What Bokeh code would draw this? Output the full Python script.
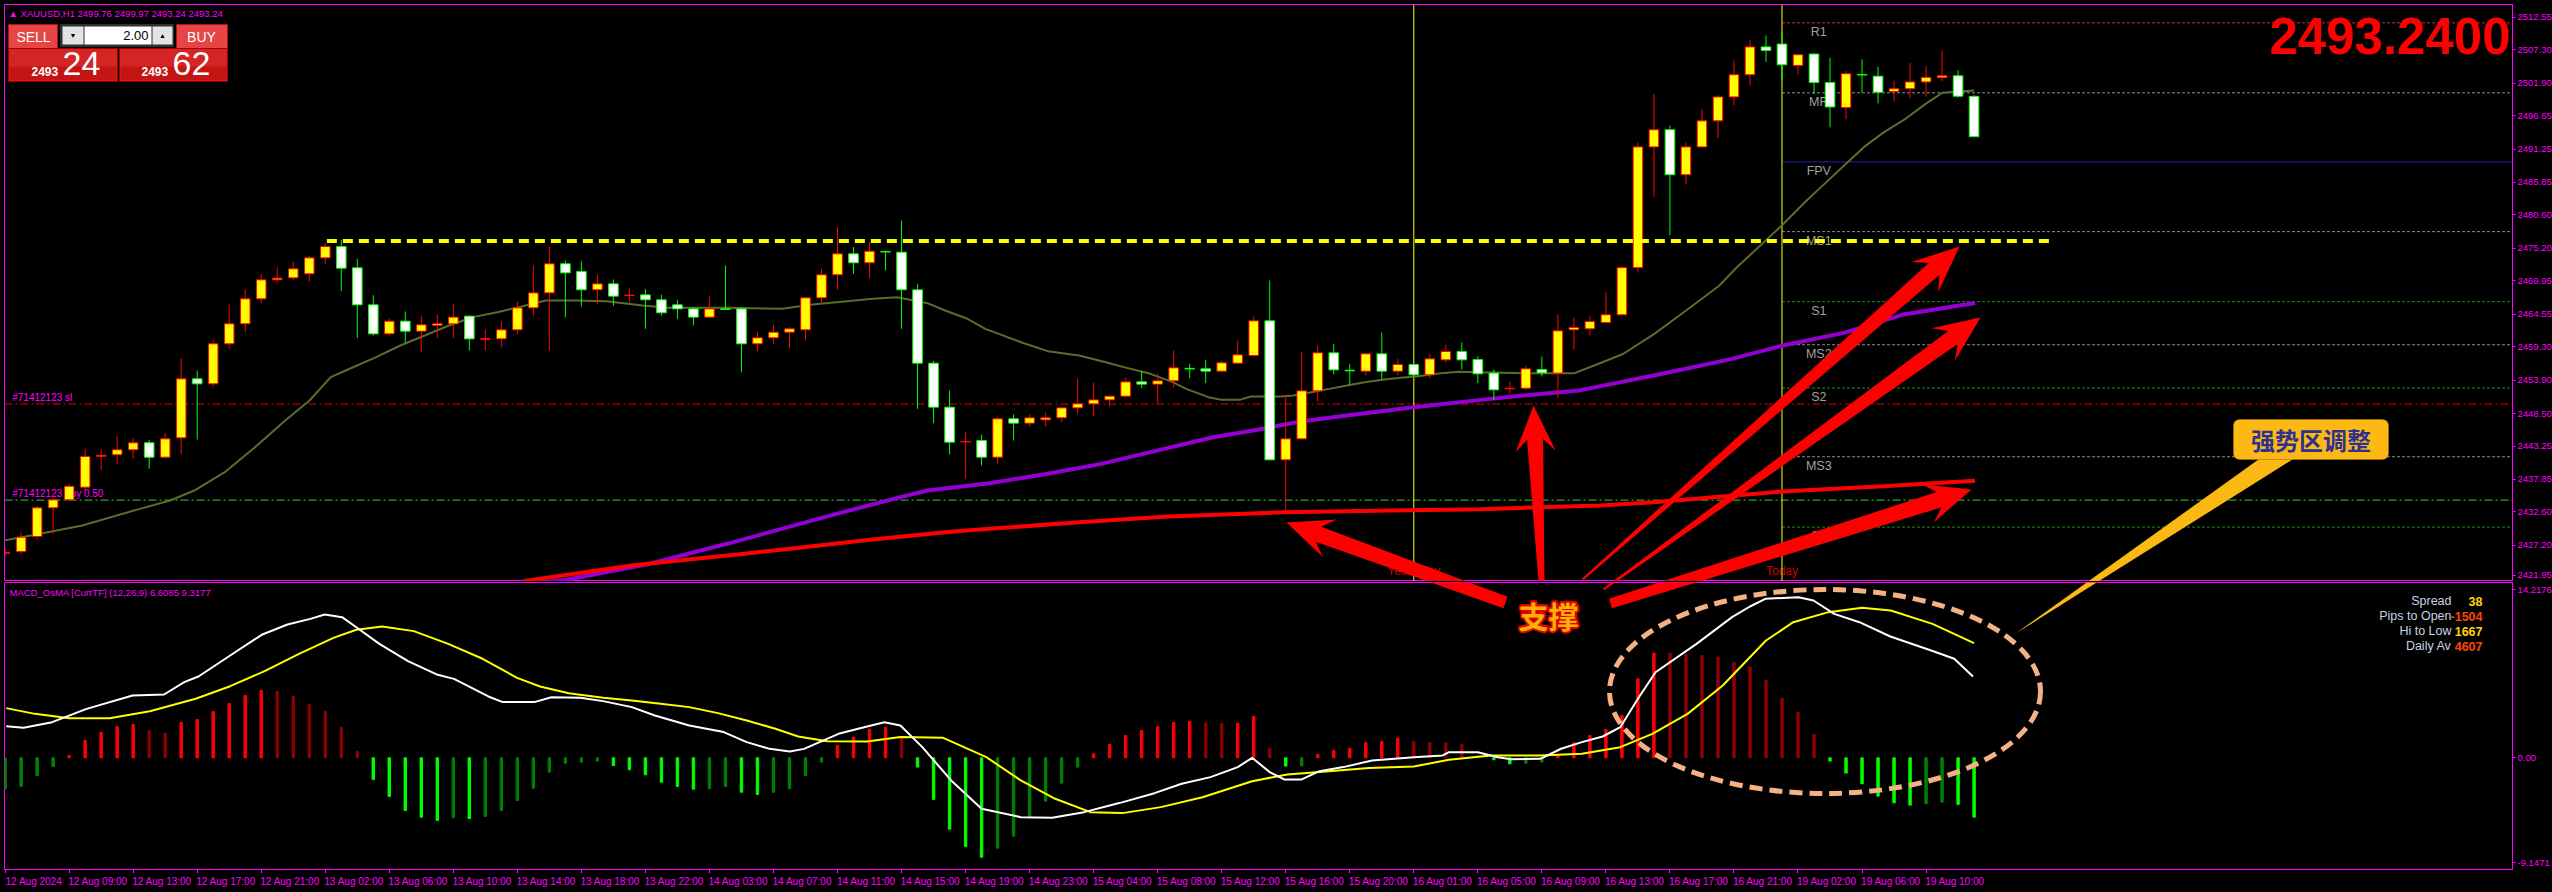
import math
from bokeh.plotting import figure
from bokeh.layouts import column
from bokeh.models import (Range1d, LinearAxis, FixedTicker, PrintfTickFormatter,
                          Label, Span, BoxAnnotation)
from bokeh.core.properties import value
from bokeh.embed import file_html
from bokeh.resources import INLINE

# ============================ DATA ============================
symbol = "XAUUSD,H1"
header_ohlc = "2499.76 2499.97 2493.24 2493.24"
last_price = 2493.24

time_labels = ["12 Aug 2024", "12 Aug 09:00", "12 Aug 13:00", "12 Aug 17:00", "12 Aug 21:00",
               "13 Aug 02:00", "13 Aug 06:00", "13 Aug 10:00", "13 Aug 14:00", "13 Aug 18:00",
               "13 Aug 22:00", "14 Aug 03:00", "14 Aug 07:00", "14 Aug 11:00", "14 Aug 15:00",
               "14 Aug 19:00", "14 Aug 23:00", "15 Aug 04:00", "15 Aug 08:00", "15 Aug 12:00",
               "15 Aug 16:00", "15 Aug 20:00", "16 Aug 01:00", "16 Aug 05:00", "16 Aug 09:00",
               "16 Aug 13:00", "16 Aug 17:00", "16 Aug 21:00", "19 Aug 02:00", "19 Aug 06:00",
               "19 Aug 10:00"]
bars_per_label = 4

price_ticks = [2512.55, 2507.30, 2501.90, 2496.65, 2491.25, 2485.85, 2480.60, 2475.20, 2469.95,
               2464.55, 2459.30, 2453.90, 2448.50, 2443.25, 2437.85, 2432.60, 2427.20, 2421.95]

opens = [2425.9, 2426.21, 2428.63, 2433.26, 2434.55, 2436.6, 2441.6, 2441.83, 2442.64, 2443.77,
         2441.45, 2444.57, 2454.11, 2453.3, 2459.77, 2463.0, 2467.04, 2470.11, 2470.43, 2471.08,
         2473.66, 2475.49, 2472.05, 2466.07, 2461.38, 2463.43, 2461.81, 2462.73, 2463.0, 2464.24,
         2460.5, 2460.57, 2462.03, 2465.58, 2468.0, 2472.7, 2471.46, 2468.5, 2469.46, 2467.55,
         2467.68, 2466.88, 2466.07, 2465.42, 2464.08, 2465.42, 2465.42, 2459.77, 2460.74, 2461.65,
         2462.03, 2467.2, 2470.92, 2474.31, 2472.86, 2474.7, 2474.58, 2468.5, 2456.64, 2449.53,
         2443.9, 2444.14, 2441.45, 2447.65, 2446.95, 2447.48, 2447.81, 2449.42, 2450.07, 2450.71,
         2451.31, 2453.62, 2453.25, 2453.79, 2455.8, 2455.73, 2455.35, 2456.64, 2457.88, 2463.48,
         2441.02, 2444.41, 2452.17, 2458.31, 2455.5, 2455.35, 2458.15, 2455.35, 2456.43, 2454.76,
         2457.18, 2458.53, 2457.23, 2455.03, 2452.5, 2452.6, 2455.62, 2455.03, 2462.03, 2462.19,
         2463.2, 2464.46, 2472.08, 2491.59, 2494.36, 2487.09, 2491.59, 2495.8, 2499.67, 2503.25,
         2507.75, 2508.21, 2504.75, 2506.6, 2501.98, 2497.94, 2503.3, 2503.02, 2500.53, 2500.99,
         2502.09, 2502.78, 2503.07, 2499.76]
highs = [2426.8, 2429.33, 2433.6, 2434.8, 2437.1, 2442.8, 2442.8, 2444.95, 2444.6, 2444.2,
         2445.4, 2457.34, 2455.46, 2460.4, 2466.1, 2468.5, 2470.97, 2472.16, 2473.07, 2474.04,
         2476.03, 2476.57, 2473.5, 2467.6, 2463.8, 2464.99, 2464.34, 2464.5, 2466.1, 2464.3,
         2462.03, 2463.43, 2466.61, 2472.43, 2475.49, 2473.23, 2473.07, 2470.97, 2470.16, 2468.82,
         2468.65, 2467.7, 2466.88, 2465.58, 2467.4, 2472.43, 2465.5, 2461.65, 2462.89, 2462.46,
         2467.3, 2471.89, 2478.62, 2475.39, 2476.2, 2474.8, 2479.7, 2469.46, 2457.0, 2452.22,
         2445.49, 2445.06, 2448.02, 2448.35, 2448.35, 2448.67, 2449.5, 2454.11, 2453.46, 2451.4,
         2454.38, 2455.35, 2454.92, 2458.69, 2456.53, 2457.18, 2457.07, 2460.3, 2464.18, 2470.0,
         2451.42, 2458.53, 2459.5, 2459.77, 2456.53, 2458.2, 2461.6, 2457.34, 2456.8, 2458.15,
         2459.66, 2459.98, 2457.77, 2455.57, 2453.68, 2456.26, 2457.72, 2464.51, 2464.02, 2464.34,
         2468.22, 2472.26, 2492.28, 2500.13, 2495.05, 2492.28, 2497.76, 2499.96, 2505.55, 2508.9,
         2509.59, 2510.06, 2506.6, 2506.7, 2506.02, 2503.88, 2505.73, 2504.57, 2502.27, 2505.15,
         2504.69, 2507.17, 2503.99, 2499.97]
lows = [2425.5, 2425.72, 2428.2, 2429.06, 2434.4, 2436.2, 2439.4, 2440.37, 2441.2, 2439.6,
        2441.3, 2441.99, 2444.3, 2452.8, 2459.0, 2461.65, 2466.34, 2469.57, 2470.11, 2469.84,
        2472.7, 2468.28, 2460.7, 2461.1, 2461.1, 2459.93, 2458.42, 2460.7, 2460.7, 2458.69,
        2458.69, 2459.23, 2461.27, 2464.18, 2458.69, 2464.08, 2465.8, 2466.23, 2465.91, 2466.39,
        2462.19, 2464.34, 2463.8, 2462.73, 2463.97, 2465.3, 2455.19, 2458.58, 2459.77, 2459.07,
        2460.3, 2466.34, 2468.55, 2471.08, 2470.38, 2471.62, 2462.19, 2449.26, 2446.94, 2441.88,
        2437.95, 2440.1, 2440.37, 2444.14, 2446.41, 2446.41, 2447.11, 2448.35, 2448.08, 2449.69,
        2451.15, 2452.6, 2450.07, 2452.66, 2454.22, 2453.41, 2455.19, 2456.53, 2457.72, 2441.0,
        2432.72, 2444.3, 2450.45, 2454.81, 2453.14, 2454.65, 2453.95, 2454.65, 2454.38, 2454.22,
        2456.8, 2455.62, 2453.41, 2450.71, 2451.79, 2452.33, 2454.49, 2450.98, 2458.85, 2461.11,
        2463.14, 2464.4, 2471.27, 2483.51, 2477.28, 2485.53, 2491.5, 2493.03, 2498.34, 2501.57,
        2505.32, 2502.27, 2503.25, 2500.13, 2494.76, 2496.09, 2500.36, 2498.63, 2498.98, 2499.5,
        2499.67, 2502.21, 2499.55, 2493.24]
closes = [2426.0, 2428.52, 2433.26, 2434.55, 2436.76, 2441.56, 2441.75, 2442.64, 2443.77, 2441.45,
          2444.41, 2454.11, 2453.3, 2459.77, 2463.0, 2467.04, 2470.11, 2470.38, 2471.89, 2473.66,
          2475.49, 2471.99, 2466.07, 2461.38, 2463.43, 2461.81, 2462.84, 2463.0, 2464.08, 2460.57,
          2460.6, 2462.03, 2465.58, 2468.0, 2472.7, 2471.24, 2468.5, 2469.46, 2467.47, 2467.65,
          2466.88, 2464.78, 2465.42, 2464.08, 2465.42, 2465.32, 2459.77, 2460.74, 2461.65, 2462.19,
          2467.2, 2470.92, 2474.31, 2472.86, 2474.74, 2474.6, 2468.5, 2456.64, 2449.53, 2443.87,
          2444.0, 2441.45, 2447.65, 2446.95, 2447.81, 2447.81, 2449.42, 2450.07, 2450.71, 2451.31,
          2453.62, 2453.25, 2453.79, 2455.89, 2455.7, 2455.35, 2456.7, 2457.99, 2463.48, 2441.02,
          2444.41, 2452.17, 2458.31, 2455.56, 2455.4, 2458.15, 2455.35, 2456.43, 2454.76, 2457.34,
          2458.53, 2457.18, 2454.92, 2452.33, 2452.6, 2455.73, 2455.08, 2461.87, 2462.41, 2463.37,
          2464.46, 2472.08, 2491.59, 2494.36, 2487.09, 2491.59, 2495.8, 2499.67, 2503.25, 2507.75,
          2507.17, 2504.86, 2506.48, 2501.98, 2498.05, 2503.42, 2503.2, 2500.42, 2500.99, 2502.09,
          2502.84, 2503.07, 2499.78, 2493.24]

# moving averages: (bar position, price)
ma_olive_x = [-0.1, 1.6, 4.82, 8.42, 10.31, 11.82, 13.72, 15.61, 17.5, 19.02, 20.34, 21.28, 23.18,
              24.69, 26.21, 27.72, 29.24, 30.75, 32.26, 33.78, 35.67, 37.56, 39.83, 41.35, 45.13,
              48.54, 50.43, 51.94, 54.21, 55.73, 57.61, 58.72, 60.12, 61.23, 62.62, 63.74, 65.14,
              67.09, 68.77, 69.88, 71.55, 72.94, 73.78, 75.17, 76.01, 77.13, 77.82, 79.64, 80.48,
              81.59, 82.71, 83.82, 84.94, 86.05, 87.17, 88.29, 89.4, 90.79, 91.91, 94.98, 98.04,
              99.39, 101.07, 102.98, 104.65, 105.85, 107.04, 108.23, 109.67, 110.99, 112.54,
              113.74, 114.93, 116.13, 117.33, 118.76, 119.95, 121.03, 122.1, 123.0]
ma_olive_y = [2427.98, 2428.79, 2430.41, 2433.1, 2434.45, 2436.06, 2439.03, 2443.07, 2447.38, 2450.61,
              2454.38, 2455.46, 2457.61, 2459.5, 2461.11, 2462.73, 2464.08, 2464.88, 2465.8, 2466.77,
              2466.77, 2466.66, 2465.96, 2465.58, 2465.58, 2465.42, 2466.12, 2466.5, 2467.04, 2467.31,
              2466.34, 2465.15, 2463.81, 2462.19, 2460.84, 2459.77, 2458.58, 2457.88, 2456.8, 2456.0,
              2454.92, 2453.57, 2452.49, 2451.15, 2450.71, 2450.71, 2451.25, 2451.25, 2451.42,
              2451.95, 2452.49, 2453.03, 2453.57, 2453.95, 2454.27, 2454.54, 2454.92, 2455.24,
              2455.19, 2455.03, 2455.03, 2456.39, 2458.12, 2461.29, 2464.46, 2466.77, 2469.08,
              2472.26, 2475.72, 2478.9, 2482.93, 2485.82, 2488.7, 2491.59, 2493.9, 2496.21, 2498.51,
              2500.36, 2500.53, 2500.71]
ma_purple_x = [32.2, 35.0, 40.2, 45.1, 51.94, 55.93, 57.61, 61.5, 64.86, 68.48, 71.55, 75.46, 78.24,
               81.03, 83.82, 88.0, 92.19, 95.53, 98.2, 102.98, 107.76, 110.99, 114.93, 118.5, 123.06]
ma_purple_y = [2420.9, 2421.6, 2424.2, 2427.45, 2432.29, 2434.99, 2436.06, 2437.25, 2438.65, 2440.37,
               2442.26, 2444.68, 2445.87, 2447.27, 2448.18, 2449.53, 2450.71, 2451.58, 2452.17,
               2454.65, 2457.25, 2459.45, 2461.58, 2464.46, 2466.37]
ma_red_x = [32.35, 35.57, 39.16, 42.1, 46.33, 48.9, 54.04, 55.93, 59.06, 61.5, 67.09, 72.67, 79.92,
            86.6, 92.19, 99.66, 102.98, 110.99, 117.33, 123.06]
ma_red_y = [2421.4, 2422.6, 2423.95, 2424.75, 2425.9, 2426.6, 2428.1, 2428.6, 2429.4, 2429.87,
            2430.94, 2431.86, 2432.56, 2432.83, 2433.05, 2433.64, 2434.17, 2435.9, 2436.76, 2437.63]

# chart objects (prices)
resistance_price, resistance_from_bar, resistance_to_bar = 2476.4, 20.1, 127.8
sl_price, buy_price = 2450.04, 2434.51
yesterday_bar, today_bar = 88, 111
pivot_names = ["R1", "MR", "FPV", "MS1", "S1", "MS2", "S2", "MS3", "S3"]
pivot_prices = [2511.64, 2500.33, 2489.17, 2477.90, 2466.58, 2459.62, 2452.62, 2441.52, 2430.15]

# MACD_OsMA (12,26,9)
macd_hist = [-2.53, -2.34, -1.44, -0.71, 0.19, 1.41, 2.07, 2.56, 2.72, 2.23,
             2.01, 2.89, 3.13, 3.78, 4.44, 5.09, 5.50, 5.42, 5.04, 4.36,
             3.78, 2.48, 0.52, -1.77, -3.16, -4.30, -4.85, -5.12, -4.90, -4.96,
             -4.79, -4.30, -3.49, -2.48, -1.17, -0.44, -0.35, -0.27, -0.63, -0.98,
             -1.39, -1.99, -2.34, -2.56, -2.53, -2.34, -2.81, -3.00, -2.81, -2.53,
             -1.44, -0.35, 1.01, 1.69, 2.34, 2.50,
             1.69, -0.76, -3.40, -5.83, -7.24, -8.12, -7.38, -6.40, -4.85, -3.54,
             -2.07, -0.76, 0.33, 1.09, 1.82, 2.23, 2.56, 2.89, 2.97, 2.86,
             2.80, 2.83, 3.38, 0.76, -0.68, -0.66, 0.27, 0.60, 0.79, 1.25,
             1.33, 1.61, 1.33, 1.25, 1.22, 1.09, 0.15, -0.16, -0.49, -0.44,
             -0.35, 0.27, 1.22, 1.82, 2.31, 3.46, 6.45, 8.55, 8.54, 8.44,
             8.36, 8.22, 7.81, 7.41, 6.32, 4.87, 3.73, 1.90, -0.27, -1.25,
             -2.12, -3.13, -3.68, -3.87, -3.76, -3.62, -3.81, -4.85]
# R = rising red, r = falling red, G = falling green, g = rising green
macd_hist_kind = ("ggggRRRRRrrRRRRRRrrrrrrGGGGGgGggggggggGGGGGGggGGggggRRRR"
                  "rGGGGGggggggRRRRRRRrrRRrGgRRRRRRrrrrrGGggRRRRRRRrrrrrrrrrrGGGGGGggGG")
macd_main_x = [0.07, 1.15, 2.94, 5.09, 7.96, 9.93, 11.19, 12.08, 14.06, 16.03, 17.64, 19.07, 19.97,
               21.05, 21.94, 23.38, 25.17, 26.96, 28.04, 30.19, 31.09, 33.06, 34.13, 35.93, 37.36,
               39.15, 40.59, 42.74, 44.89, 46.33, 47.76, 49.01, 49.91, 52.06, 53.85, 54.93, 55.93,
               57.3, 59.1, 61.0, 63.45, 65.4, 67.4, 69.6, 71.8, 73.5, 75.3, 77.0, 77.9, 79.0, 79.9,
               81.0, 82.1, 83.6, 85.4, 88.0, 89.8, 90.2, 92.0, 93.25, 94.1, 95.9, 97.2, 98.5, 99.8,
               100.9, 102.0, 103.1, 105.66, 107.88, 109.0, 109.96, 112.03, 112.97, 114.26, 115.84,
               117.77, 120.32, 121.76, 122.93]
macd_main_y = [2.58, 2.45, 2.91, 4.0, 5.09, 5.17, 6.18, 6.64, 8.36, 10.05, 10.89, 11.35, 11.71,
               11.49, 10.67, 9.31, 7.9, 6.81, 6.45, 5.01, 4.55, 4.55, 4.95, 4.9, 4.63,
               4.14, 3.46, 2.64, 2.1, 1.28, 0.73, 0.52, 0.73, 1.96, 2.56, 2.91, 2.64,
               0.87, -1.85, -4.17, -4.85, -4.9, -4.44, -3.7, -2.89, -2.12, -1.58, -0.76, 0.0, -1.17,
               -1.77, -1.77, -1.09, -0.76, -0.22, 0.05, 0.19, 0.46, 0.46, 0.05, -0.11, -0.08, 0.74,
               1.28, 1.74, 2.5, 4.82, 6.99, 9.31, 11.49, 12.36, 12.99, 13.12, 12.85, 11.76, 11.08,
               9.91, 8.77, 8.09, 6.64]
macd_signal_x = [0.07, 1.86, 4.02, 6.53, 9.04, 11.9, 14.06, 16.21, 18.36, 20.51, 21.94, 23.56, 25.53,
                 27.68, 29.83, 31.98, 33.42, 35.21, 37.36, 39.15, 40.95, 42.74, 44.53, 46.33, 48.12,
                 49.55, 51.35, 53.85, 55.93, 58.6, 61.3, 63.45, 65.6, 67.8, 69.8, 72.2, 74.8, 77.9,
                 80.1, 82.7, 85.2, 88.0, 90.2, 92.8, 95.9, 98.5, 100.9, 102.9, 105.1, 107.3, 110.0,
                 111.7, 113.9, 116.0, 117.8, 120.4, 123.0]
macd_signal_y = [4.06, 3.59, 3.24, 3.24, 3.81, 4.82, 5.85, 7.08, 8.49, 9.8, 10.46, 10.73, 10.35,
                 9.31, 8.09, 6.53, 5.83, 5.28, 4.9, 4.68, 4.41, 4.14, 3.65, 3.05, 2.37,
                 1.74, 1.36, 1.33, 1.69, 1.63, 0.05, -1.85, -3.35, -4.44, -4.52, -4.03, -3.22, -1.91,
                 -1.36, -1.09, -0.84, -0.71, -0.16, 0.19, 0.19, 0.33, 0.87, 1.96, 3.59, 5.91, 9.58,
                 11.08, 11.9, 12.25, 12.03, 10.94, 9.37]
macd_title = "MACD_OsMA [CurrTF] (12,26,9) 6.6085 9.3177"
macd_axis_labels = ["14.2176", "0.00", "-9.1471"]
info_names = ["Spread", "Pips to Open", "Hi to Low", "Daily Av"]
info_values = ["38", "-1504", "1667", "4607"]

# ============================ LAYOUT ============================
MAGENTA = "#FF00FF"
SMALL = "Liberation Sans, Arial, sans-serif"
SANS = "Liberation Sans, Arial, sans-serif"
CJK = "Noto Sans CJK SC"

# screen geometry of the MT4 window (page pixels) -> data units
X0_PX, PX_PER_BAR = 4.6, 16.008


def bx(xp):
    return (xp - X0_PX) / PX_PER_BAR


def py(yp):
    return 2512.55 - (yp - 16.7) * 0.1616


def my(yp):
    return (757.3 - yp) * 0.0817


n = len(opens)
assert len(highs) == n and len(lows) == n and len(closes) == n
assert len(macd_hist) == n and len(macd_hist_kind) == n
assert len(macd_main_x) == len(macd_main_y) and len(macd_signal_x) == len(macd_signal_y)

xr = Range1d(bx(4), bx(2512))

p = figure(frame_width=2508, frame_height=577, x_range=xr, y_range=Range1d(py(581), py(4)),
           output_backend="svg", toolbar_location=None, x_axis_location=None, y_axis_location=None,
           background_fill_color="black", border_fill_color="black", outline_line_color=MAGENTA,
           min_border=0, min_border_left=4, min_border_top=4)
p.grid.grid_line_color = None

bottom_tick = round(py(575), 3)
axis_ticks = price_ticks[:-1] + [bottom_tick]
yax = LinearAxis(ticker=FixedTicker(ticks=axis_ticks), formatter=PrintfTickFormatter(format="%.2f"),
                 major_label_overrides={bottom_tick: f"{price_ticks[-1]:.2f}"},
                 axis_line_color=MAGENTA, major_tick_line_color=MAGENTA, major_tick_out=3,
                 major_tick_in=0, minor_tick_line_color=None, major_label_text_color=MAGENTA,
                 major_label_text_font=SMALL, major_label_text_font_size="9.5px",
                 major_label_standoff=2)
p.add_layout(yax, "right")


def ptext(fig, x, y, s, color, size, font=SANS, align="left", baseline="middle", style="normal",
          xo=0, yo=0, level="glyph"):
    fig.text(x=[x], y=[y], text=[s], text_color=color, text_font_size=f"{size}px",
             text_font=value(font), text_align=align, text_baseline=baseline,
             text_font_style=style, x_offset=xo, y_offset=yo, level=level)


# ---- pivot levels (start at the "Today" line)
pv_colors = ["#C03030", "#8C8C8C", "#2020B0", "#8C8C8C", "#1E8C1E", "#8C8C8C", "#1E8C1E", "#8C8C8C", "#1E8C1E"]
for name, pr, col in zip(pivot_names, pivot_prices, pv_colors):
    dash = "solid" if name == "FPV" else "3 2"
    p.line(x=[today_bar, xr.end], y=[pr, pr], line_color=col, line_width=1, line_dash=dash,
           level="underlay")
    ptext(p, today_bar + 2.3, pr, name, "#A0A0A0", 12.5, align="center", baseline="top", yo=2,
          level="underlay")

# ---- order lines
p.add_layout(Span(location=sl_price, dimension="width", line_color="#E00000", line_width=1,
                  line_dash="8 3 2 3", level="underlay"))
p.add_layout(Span(location=buy_price, dimension="width", line_color="#32CD32", line_width=1,
                  line_dash="8 3 2 3", level="underlay"))
ptext(p, bx(11.7), sl_price, "#71412123 sl", MAGENTA, 10, font=SMALL, baseline="bottom", yo=-1,
      level="underlay")
ptext(p, bx(11.7), buy_price, "#71412123 buy 0.50", MAGENTA, 10, font=SMALL, baseline="bottom",
      yo=-1, level="underlay")

# ---- period separators
for b, lab in ((yesterday_bar, "Yesterday"), (today_bar, "Today")):
    p.add_layout(Span(location=b, dimension="height", line_color="#FFFF00", line_width=1,
                      level="underlay"))
    ptext(p, b, py(570), lab, "#D00000", 12, font=SMALL, align="center", level="underlay")

# ---- moving averages
p.line(ma_olive_x, ma_olive_y, line_color="#5A6E2C", line_width=2)
p.line(ma_purple_x, ma_purple_y, line_color="#9400D3", line_width=4)
p.line(ma_red_x, ma_red_y, line_color="#FF0000", line_width=4)

# ---- candles
idx = list(range(n))
up = [i for i in idx if closes[i] >= opens[i]]
dn = [i for i in idx if closes[i] < opens[i]]
for sel, fill, edge in ((up, "#FFFF00", "#FF0000"), (dn, "#FFFFFF", "#00FF00")):
    p.segment(x0=sel, x1=sel, y0=[lows[i] for i in sel], y1=[highs[i] for i in sel],
              line_color=edge, line_width=1)
    p.vbar(x=sel, width=0.6, top=[max(opens[i], closes[i]) for i in sel],
           bottom=[min(opens[i], closes[i]) for i in sel], fill_color=fill, line_color=edge,
           line_width=1)

# ---- resistance line
p.line([resistance_from_bar, resistance_to_bar], [resistance_price, resistance_price],
       line_color="#FFFF00", line_width=4, line_dash="10 6")

# ---- header + one click trading panel
ptext(p, bx(8), py(13), "\u25B2 " + symbol + "  " + header_ohlc, MAGENTA, 9.5, font=SMALL)


def pquad(x0, y0, x1, y1, fill, line=None):
    p.quad(left=bx(x0), right=bx(x1), top=py(y0), bottom=py(y1), fill_color=fill,
           line_color=line)


pquad(8, 24, 57, 48, "#E54545", "#B01010")
pquad(176, 24, 227, 48, "#E54545", "#B01010")
pquad(60, 24, 173, 46, "#303030", "#303030")
pquad(62, 26, 83, 44, "#E4E4E4")
pquad(84, 26, 151, 44, "#FFFFFF")
pquad(152, 26, 172, 44, "#E4E4E4")
pquad(8, 48, 117, 81, "#D42424", "#A00000")
pquad(119, 48, 227, 81, "#D42424", "#A00000")
pquad(9, 66, 116, 80, "#C41414")
pquad(120, 66, 226, 80, "#C41414")
ptext(p, bx(33), py(36), "SELL", "white", 14, align="center")
ptext(p, bx(201), py(36), "BUY", "white", 14, align="center")
ptext(p, bx(72.5), py(35), "\u25BC", "black", 7, align="center")
ptext(p, bx(162), py(35), "\u25B2", "black", 7, align="center")
ptext(p, bx(148), py(35), "2.00", "black", 13, align="right")
ptext(p, bx(31), py(70.5), "2493", "white", 12, style="bold")
ptext(p, bx(62), py(63), "24", "white", 34)
ptext(p, bx(141), py(70.5), "2493", "white", 12, style="bold")
ptext(p, bx(172), py(63), "62", "white", 34)

# ---- big price
ptext(p, bx(2510), py(35.5), f"{last_price:.4f}", "#FF0000", 51, style="bold", align="right")

# ---- price tag on axis
p.add_layout(Label(x=bx(2515), y=last_price, text=f"{last_price:.2f}", text_color="black",
                   text_font=SMALL, text_font_size="9.5px", text_baseline="middle",
                   background_fill_color=MAGENTA))

# ============================ MACD panel ============================
mp = figure(frame_width=2508, frame_height=287, x_range=xr, y_range=Range1d(my(869), my(582)),
            output_backend="svg", toolbar_location=None, x_axis_location=None,
            y_axis_location=None, background_fill_color="black", border_fill_color="black",
            outline_line_color=MAGENTA, min_border=0, min_border_left=4)
mp.grid.grid_line_color = None

m_ticks = [round(my(589), 3), 0, round(my(862.3), 3)]
may = LinearAxis(ticker=FixedTicker(ticks=m_ticks),
                 major_label_overrides=dict(zip(m_ticks, macd_axis_labels)),
                 axis_line_color=MAGENTA, major_tick_line_color=MAGENTA, major_tick_out=3,
                 major_tick_in=0, minor_tick_line_color=None, major_label_text_color=MAGENTA,
                 major_label_text_font=SMALL, major_label_text_font_size="9.5px",
                 major_label_standoff=2)
mp.add_layout(may, "right")

lab_pos = [round(k * bars_per_label + 1.8, 2) for k in range(len(time_labels))]
xax = LinearAxis(ticker=FixedTicker(ticks=lab_pos,
                                    minor_ticks=[k * bars_per_label for k in range(len(time_labels))]),
                 major_label_overrides=dict(zip(lab_pos, time_labels)),
                 axis_line_color=MAGENTA, major_tick_line_color=None, major_tick_out=0,
                 major_tick_in=0, minor_tick_line_color=MAGENTA, minor_tick_out=4, minor_tick_in=0,
                 major_label_text_color=MAGENTA, major_label_text_font=SMALL,
                 major_label_text_font_size="10px", major_label_standoff=2)
mp.add_layout(xax, "below")

kind_color = {"R": "#FF0000", "r": "#8B0000", "G": "#00FF00", "g": "#008000"}
mp.vbar(x=idx, width=0.15, top=macd_hist, bottom=0,
        color=[kind_color[k] for k in macd_hist_kind])
mp.line(macd_signal_x, macd_signal_y, line_color="#FFFF00", line_width=2)
mp.line(macd_main_x, macd_main_y, line_color="#FFFFFF", line_width=2)

ptext(mp, bx(9), my(592), macd_title, MAGENTA, 9.5, font=SMALL)
for k, (nm, vl) in enumerate(zip(info_names, info_values)):
    yy = my(600.5 + 15 * k)
    ptext(mp, bx(2451), yy, nm, "#C8D2E6", 12.5, align="right")
    ptext(mp, bx(2482), yy, vl, "#FFD700" if k % 2 == 0 else "#FF4500", 12.5, style="bold",
          align="right")

# dashed ellipse around the MACD top
mp.ellipse(x=[bx(1824.5)], y=[my(691)], width=[431 / PX_PER_BAR], height=[204 * 0.0817],
           fill_color=None, line_color="#F4B183", line_width=5, line_dash="13 7")

# ============================ drawings (page pixels) ============================
def arrow_px(tail, tip, tail_hw, shaft_hw, head_len=46.0, head_hw=20.0, notch=12.0):
    (tx, ty), (hx, hy) = tail, tip
    L = math.hypot(hx - tx, hy - ty)
    ux, uy = (hx - tx) / L, (hy - ty) / L
    nx, ny = -uy, ux
    bxp, byp = hx - ux * head_len, hy - uy * head_len
    jx, jy = hx - ux * (head_len - notch), hy - uy * (head_len - notch)
    return [(tx + nx * tail_hw, ty + ny * tail_hw), (jx + nx * shaft_hw, jy + ny * shaft_hw),
            (bxp + nx * head_hw, byp + ny * head_hw), (hx, hy),
            (bxp - nx * head_hw, byp - ny * head_hw), (jx - nx * shaft_hw, jy - ny * shaft_hw),
            (tx - nx * tail_hw, ty - ny * tail_hw)]


def both_patch(pts, color):
    xs = [bx(a) for a, _ in pts]
    p.patch(xs, [py(b) for _, b in pts], fill_color=color, line_color=None)
    mp.patch(xs, [my(b) for _, b in pts], fill_color=color, line_color=None)


arrow_specs = [((1505, 602), (1286, 522), 6, 8),
               ((1541, 580), (1533, 405), 3, 8),
               ((1582, 579), (1959, 246), 1, 8),
               ((1603, 589), (1980, 317), 1, 8),
               ((1610, 603), (1971, 489), 5, 8)]
for tail, tip, thw, shw in arrow_specs:
    both_patch(arrow_px(tail, tip, thw, shw), "#FF0000")

# callout pointer + box
both_patch([(2258, 459), (2292, 459), (2015, 633)], "#FDB913")
p.add_layout(BoxAnnotation(left=bx(2233), right=bx(2388), top=py(419), bottom=py(459),
                           fill_color="#FDB913", fill_alpha=1.0, line_color="#D89A10",
                           line_width=1, border_radius=6))
p.add_layout(Label(x=bx(2310.5), y=py(439), text="强势区调整", text_color="#2E3192",
                   text_font=CJK, text_font_size="24px", text_font_style="bold",
                   text_align="center", text_baseline="middle"))

# "支撑" with red glow
sx, sy = bx(1548), my(614)
for ox, oy in ((-2, 0), (2, 0), (0, -2), (0, 2), (-1.5, -1.5), (1.5, 1.5), (-1.5, 1.5), (1.5, -1.5)):
    ptext(mp, sx, sy, "支撑", "#E00000", 30, font=CJK, style="bold", align="center", xo=ox, yo=oy)
ptext(mp, sx, sy, "支撑", "#FFB000", 30, font=CJK, style="bold", align="center")

layout = column(p, mp, spacing=1)
html = file_html(layout, INLINE, title="XAUUSD,H1")
html = html.replace("<body>", '<body style="background-color:#000000;">')
open("out.html", "w").write(html)
